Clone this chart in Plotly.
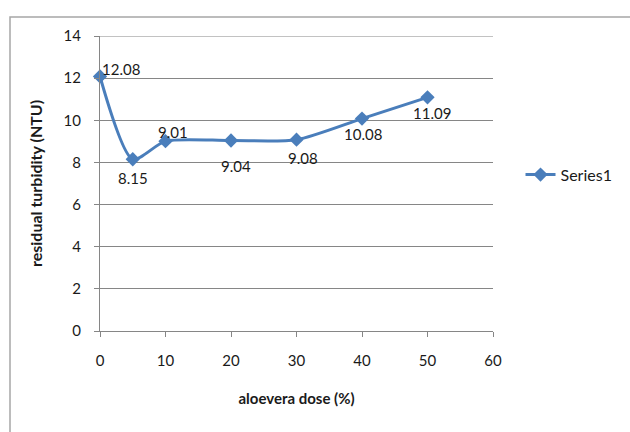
import plotly.graph_objects as go

# aloevera dose (%) and residual turbidity (NTU)
dose = [0, 5, 10, 20, 30, 40, 50]
turbidity = [12.08, 8.15, 9.01, 9.04, 9.08, 10.08, 11.09]

# data-label offsets from each point (pixels, x right / y up)
label_dx = [21, 0, 7, 5, 6, 1, 4]
label_dy = [7, -19, 9, -25, -18, -15, -16]

x_ticks = [0, 10, 20, 30, 40, 50, 60]
y_ticks = [0, 2, 4, 6, 8, 10, 12, 14]

line_color = "#4a7ebb"
axis_color = "#868686"
text_color = "#1a1a1a"
font_family = "Lato, 'Liberation Sans', sans-serif"

fig = go.Figure()
fig.add_trace(go.Scatter(
    x=dose, y=turbidity,
    mode="lines+markers",
    name="Series1",
    line=dict(color=line_color, width=3, shape="spline", smoothing=0.7),
    marker=dict(symbol="diamond", size=11, color=line_color),
    cliponaxis=False,
))

for xv, yv, dx, dy in zip(dose, turbidity, label_dx, label_dy):
    fig.add_annotation(
        x=xv, y=yv, text=f"{yv:.2f}", showarrow=False,
        xshift=dx, yshift=dy,
        font=dict(size=15, color=text_color, family=font_family),
    )

fig.update_layout(
    width=630, height=432,
    margin=dict(l=100, r=137, t=36, b=101),
    paper_bgcolor="white", plot_bgcolor="white",
    font=dict(family=font_family, size=15, color=text_color),
    showlegend=True,
    legend=dict(x=1.07, y=0.53, xanchor="left", yanchor="middle",
                font=dict(size=16), bgcolor="rgba(0,0,0,0)"),
    xaxis=dict(
        range=[0, 60], tickvals=x_ticks, showgrid=False, zeroline=False,
        showline=True, linecolor=axis_color, linewidth=1,
        ticks="outside", ticklen=5, tickcolor=axis_color,
        ticklabelstandoff=11,
        tickfont=dict(size=15),
        title=dict(text="<b>aloevera dose (%)</b>", standoff=25,
                   font=dict(size=15, color=text_color)),
    ),
    yaxis=dict(
        range=[0, 14], tickvals=y_ticks, showgrid=True, gridcolor=axis_color,
        gridwidth=1, zeroline=False,
        showline=True, linecolor=axis_color, linewidth=1,
        ticks="outside", ticklen=5, tickcolor=axis_color,
        ticklabelstandoff=10,
        tickfont=dict(size=15),
        title=dict(text="<b>residual turbidity (NTU)</b>", standoff=16,
                   font=dict(size=16, color=text_color)),
    ),
    shapes=[
        # top gridline at the axis maximum
        dict(type="line", xref="paper", yref="y", x0=0, x1=1, y0=14, y1=14,
             line=dict(color=axis_color, width=1)),
        # chart frame
        dict(type="rect", xref="paper", yref="paper",
             x0=-0.229, x1=1.38, y0=-0.37, y1=1.064,
             line=dict(color="#a6a6a6", width=1.5), layer="below"),
    ],
)

fig.write_html("out.html")
